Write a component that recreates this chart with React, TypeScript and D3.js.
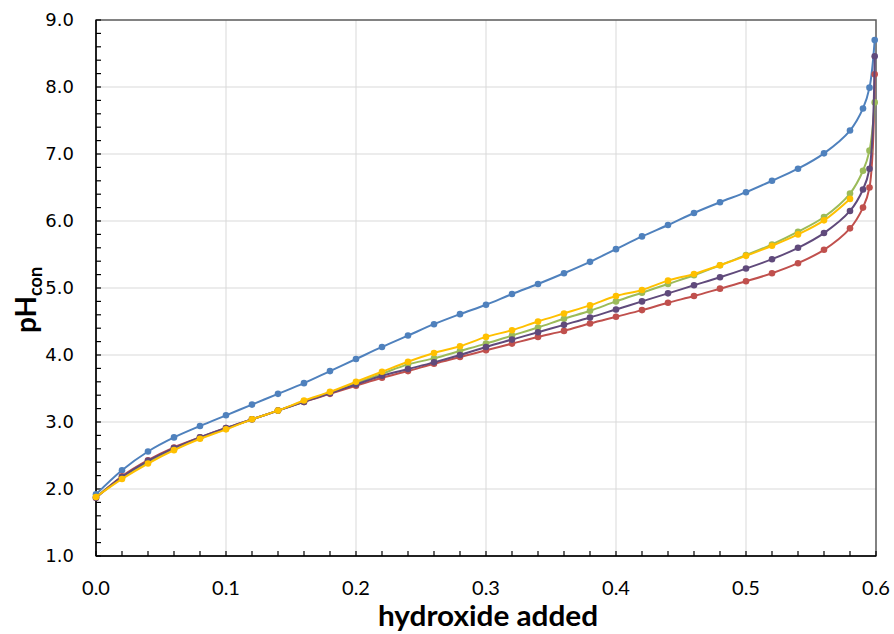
import React from 'react';
import * as d3 from 'd3';

// hydroxide added (x) for each titration point
const xAll = [0, 0.02, 0.04, 0.06, 0.08, 0.1, 0.12, 0.14, 0.16, 0.18, 0.2, 0.22, 0.24, 0.26, 0.28,
  0.3, 0.32, 0.34, 0.36, 0.38, 0.4, 0.42, 0.44, 0.46, 0.48, 0.5, 0.52, 0.54, 0.56, 0.58, 0.59, 0.595, 0.599];

const blue = [1.92, 2.28, 2.56, 2.77, 2.94, 3.10, 3.26, 3.42, 3.58, 3.76, 3.94, 4.12, 4.29, 4.46, 4.61,
  4.75, 4.91, 5.06, 5.22, 5.39, 5.58, 5.77, 5.94, 6.12, 6.28, 6.43, 6.60, 6.78, 7.01, 7.35, 7.68, 7.99, 8.70];
const red = [1.87, 2.19, 2.43, 2.62, 2.77, 2.91, 3.04, 3.17, 3.30, 3.42, 3.54, 3.66, 3.76, 3.87, 3.97,
  4.07, 4.17, 4.27, 4.36, 4.47, 4.57, 4.67, 4.78, 4.88, 4.99, 5.10, 5.22, 5.37, 5.57, 5.89, 6.20, 6.50, 8.19];
const green = [1.88, 2.17, 2.40, 2.59, 2.76, 2.90, 3.04, 3.17, 3.31, 3.44, 3.58, 3.72, 3.86, 3.95, 4.06,
  4.17, 4.29, 4.41, 4.54, 4.66, 4.80, 4.93, 5.06, 5.19, 5.34, 5.49, 5.65, 5.84, 6.06, 6.41, 6.75, 7.05, 7.77];
const purple = [1.87, 2.18, 2.42, 2.61, 2.77, 2.91, 3.04, 3.17, 3.30, 3.43, 3.56, 3.69, 3.79, 3.89, 4.00,
  4.12, 4.23, 4.34, 4.45, 4.56, 4.68, 4.80, 4.92, 5.04, 5.16, 5.29, 5.43, 5.60, 5.82, 6.15, 6.47, 6.78, 8.46];
// yellow series stops at 0.58
const yellow = [1.88, 2.15, 2.38, 2.58, 2.75, 2.89, 3.04, 3.17, 3.32, 3.45, 3.60, 3.75, 3.90, 4.03, 4.13,
  4.27, 4.37, 4.50, 4.62, 4.74, 4.88, 4.97, 5.11, 5.21, 5.34, 5.48, 5.63, 5.80, 6.01, 6.33];

const xTicks = [0, 0.1, 0.2, 0.3, 0.4, 0.5, 0.6];
const yTicks = [1, 2, 3, 4, 5, 6, 7, 8, 9];

const series = [
  { name: 'blue', color: '#4F81BD', values: blue },
  { name: 'red', color: '#C0504D', values: red },
  { name: 'green', color: '#9BBB59', values: green },
  { name: 'purple', color: '#604A7B', values: purple },
  { name: 'yellow', color: '#FFC000', values: yellow },
];

const width = 894;
const height = 634;
const left = 96, right = 876, top = 20, bottom = 556;

const App = () => {
  const x = d3.scaleLinear().domain([0, 0.6]).range([left, right]);
  const y = d3.scaleLinear().domain([1, 9]).range([bottom, top]);

  const line = d3.line<number>()
    .x((d, i) => x(xAll[i]))
    .y(d => y(d))
    .curve(d3.curveCatmullRom.alpha(0.5));

  const minorX = d3.range(0, 0.6001, 0.02);
  const minorY = d3.range(1, 9.001, 0.2);

  return (
    <svg width={width} height={height} style={{ position: 'absolute', left: 0, top: 0, background: '#fff' }}>
      {/* grid */}
      {xTicks.slice(1, -1).map(t => (
        <line key={'gx' + t} x1={x(t)} x2={x(t)} y1={top} y2={bottom} stroke="#D9D9D9" strokeWidth={1} />
      ))}
      {yTicks.slice(1, -1).map(t => (
        <line key={'gy' + t} x1={left} x2={right} y1={y(t)} y2={y(t)} stroke="#D9D9D9" strokeWidth={1} />
      ))}

      {/* frame */}
      <rect x={left} y={top} width={right - left} height={bottom - top} fill="none" stroke="#595959" strokeWidth={1.5} />
      <line x1={left} x2={left} y1={top} y2={bottom} stroke="#000" strokeWidth={1.5} />
      <line x1={left} x2={right} y1={bottom} y2={bottom} stroke="#000" strokeWidth={1.5} />

      {/* inward ticks */}
      {minorX.map((t, i) => (
        <line key={'tx' + i} x1={x(t)} x2={x(t)} y1={bottom} y2={bottom - 5} stroke="#000" strokeWidth={1.2} />
      ))}
      {minorY.map((t, i) => (
        <line key={'ty' + i} x1={left} x2={left + 5} y1={y(t)} y2={y(t)} stroke="#000" strokeWidth={1.2} />
      ))}

      {/* series */}
      {series.map(s => (
        <g key={s.name}>
          <path d={line(s.values) || ''} fill="none" stroke={s.color} strokeWidth={2} />
          {s.values.map((v, i) => (
            <circle key={i} cx={x(xAll[i])} cy={y(v)} r={3.3} fill={s.color} />
          ))}
        </g>
      ))}

      {/* tick labels */}
      {yTicks.map(t => (
        <text key={'ly' + t} x={left - 22} y={y(t)} dy="0.35em" textAnchor="end"
          fontFamily="'DejaVu Sans', sans-serif" fontSize={18} fill="#000">{t.toFixed(1)}</text>
      ))}
      {xTicks.map(t => (
        <text key={'lx' + t} x={x(t)} y={bottom + 39} textAnchor="middle"
          fontFamily="Lato, sans-serif" fontSize={20} fill="#000">{t.toFixed(1)}</text>
      ))}

      {/* axis titles */}
      <text x={(left + right) / 2 + 2} y={626} textAnchor="middle" fontWeight="bold"
        fontFamily="Lato, sans-serif" fontSize={28} fill="#000"
        textLength={220} lengthAdjust="spacingAndGlyphs">hydroxide added</text>
      <text transform={`translate(36, 300) rotate(-90)`} textAnchor="middle"
        fontFamily="Lato, sans-serif" fontWeight="bold" fontSize={28} fill="#000">
        pH<tspan fontSize={18} dy={6}>con</tspan>
      </text>
    </svg>
  );
};

export default App;
